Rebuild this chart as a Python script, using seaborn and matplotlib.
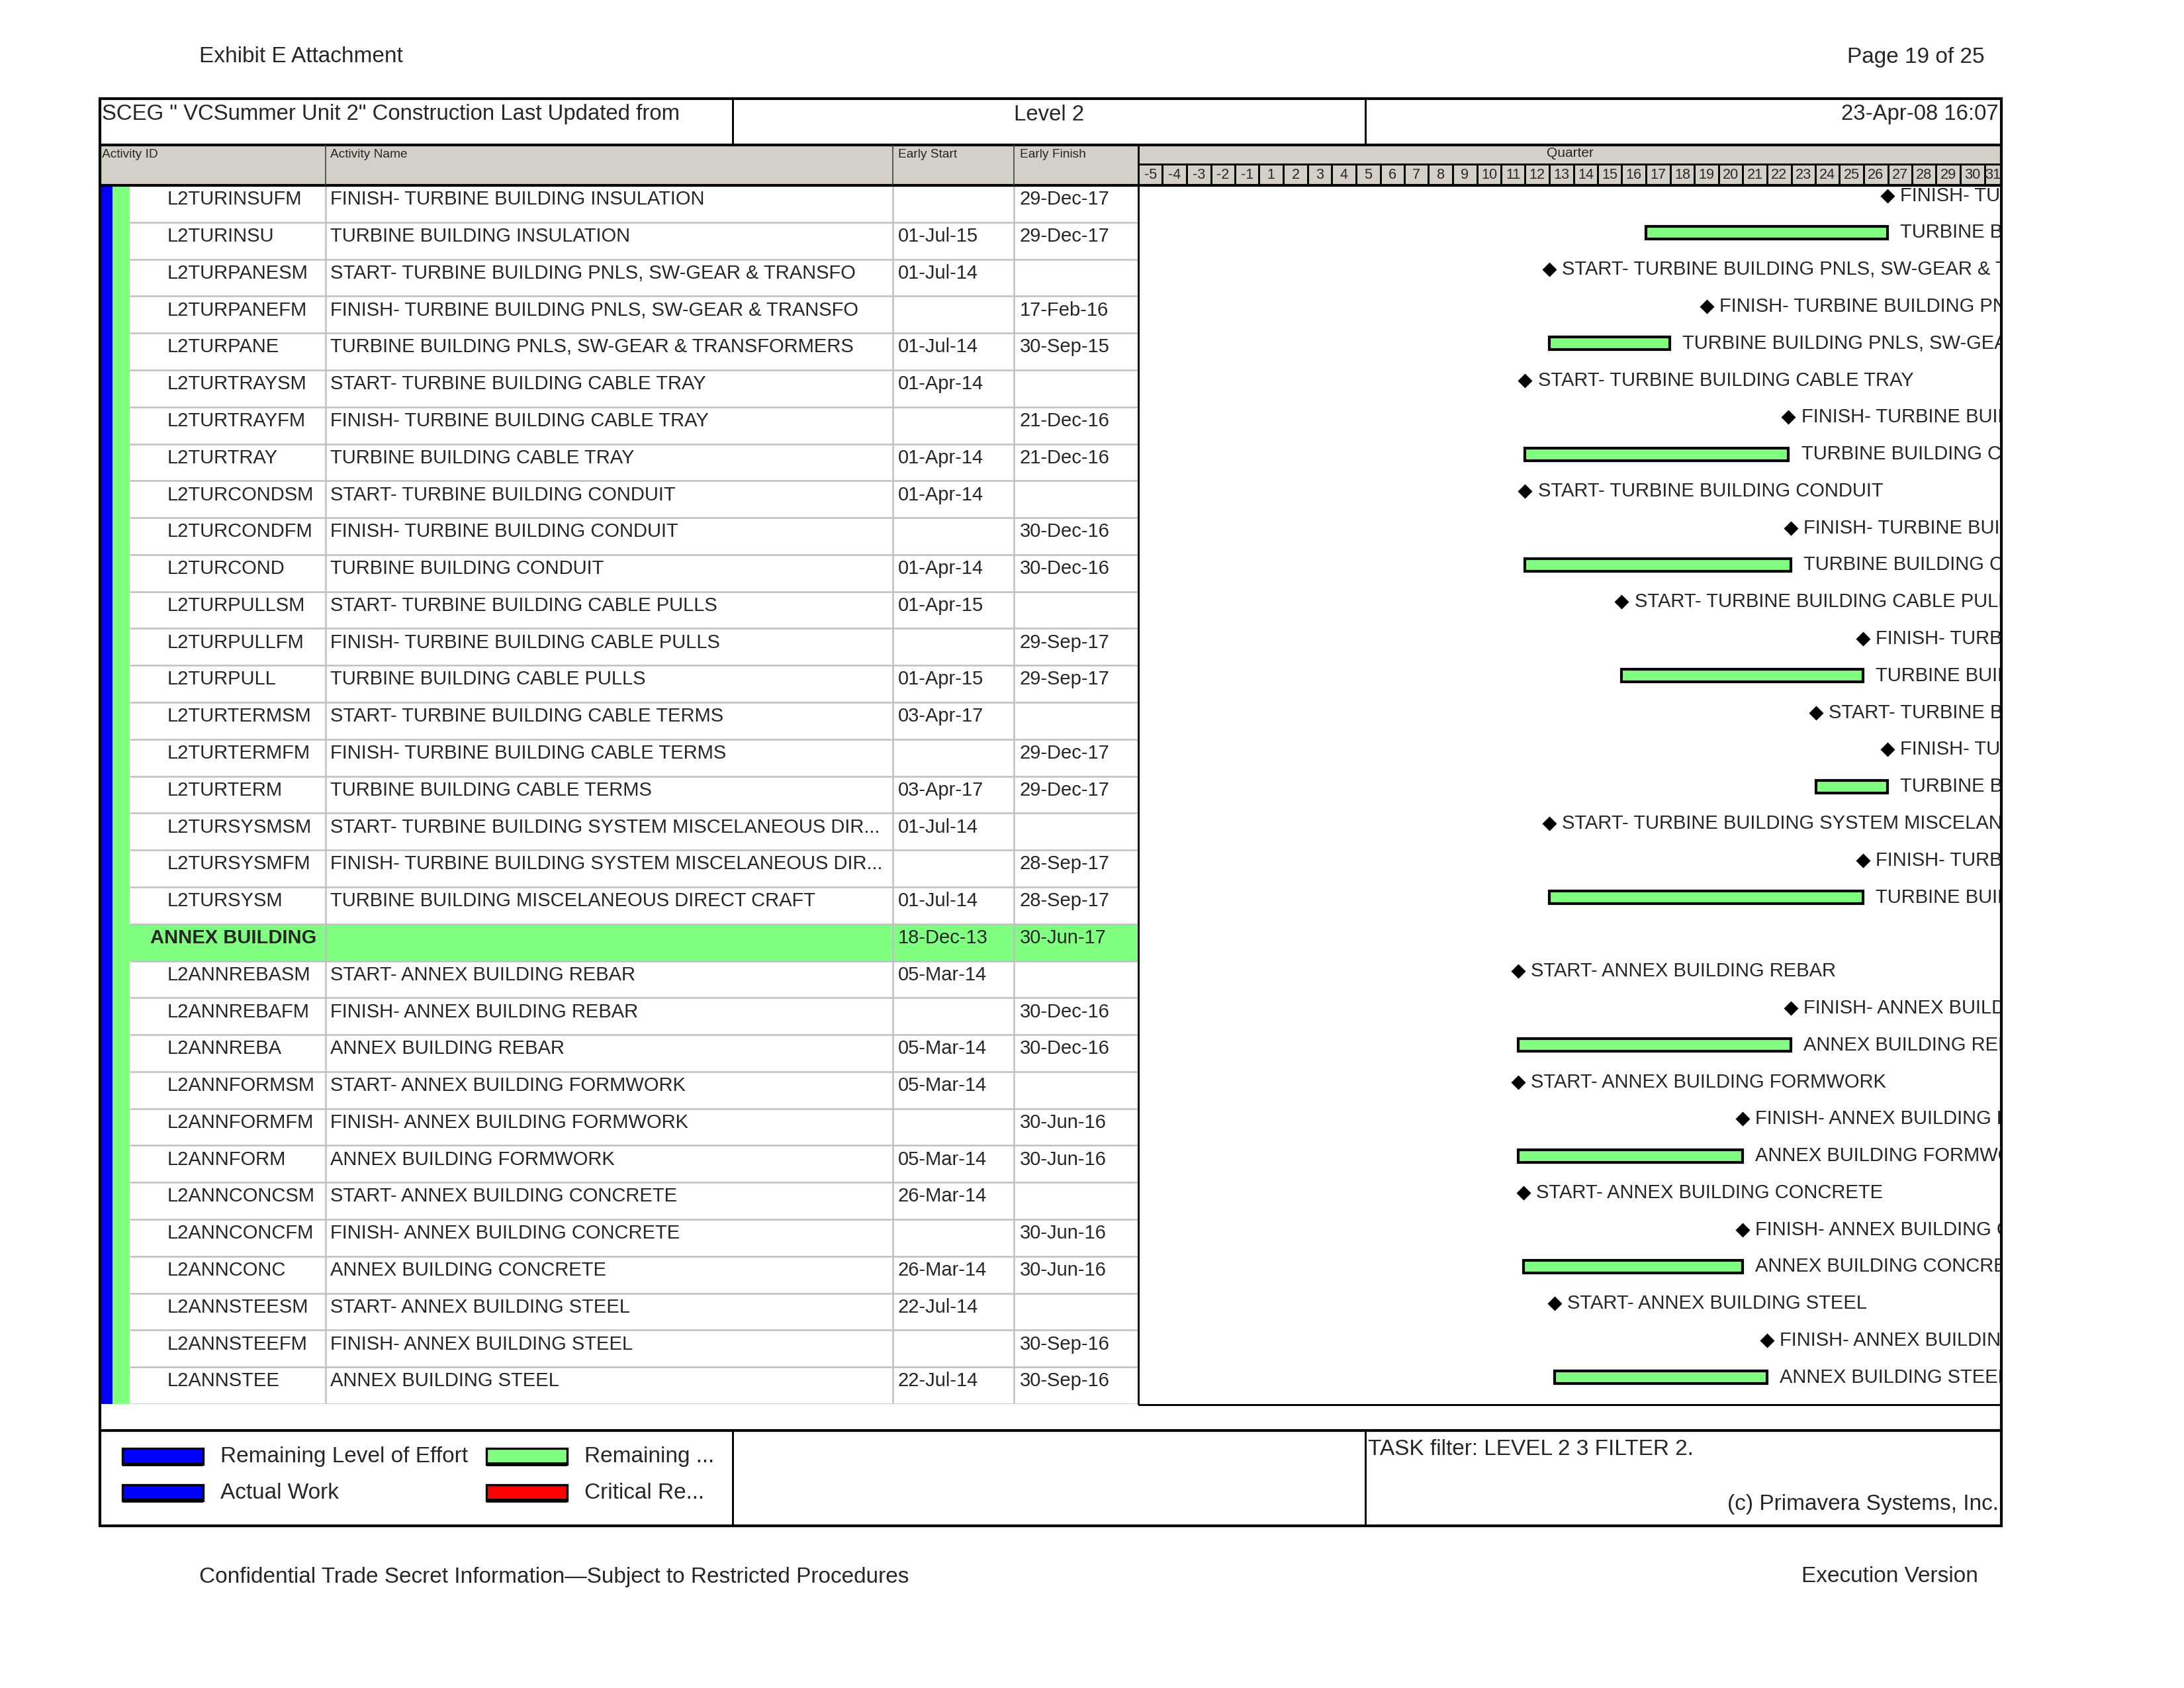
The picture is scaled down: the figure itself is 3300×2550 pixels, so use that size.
import numpy as np
import pandas as pd
import matplotlib
matplotlib.use("Agg")
import matplotlib.pyplot as plt
import matplotlib.dates as mdates
import matplotlib.transforms as mtransforms
from matplotlib.patches import Rectangle
import seaborn as sns

sns.set_theme(style="white")
plt.rcParams['font.family'] = ['Liberation Sans', 'DejaVu Sans']

# ---------------- data ----------------
activity_ids = [
    "L2TURINSUFM", "L2TURINSU", "L2TURPANESM", "L2TURPANEFM", "L2TURPANE",
    "L2TURTRAYSM", "L2TURTRAYFM", "L2TURTRAY", "L2TURCONDSM", "L2TURCONDFM",
    "L2TURCOND", "L2TURPULLSM", "L2TURPULLFM", "L2TURPULL", "L2TURTERMSM",
    "L2TURTERMFM", "L2TURTERM", "L2TURSYSMSM", "L2TURSYSMFM", "L2TURSYSM",
    "ANNEX BUILDING",
    "L2ANNREBASM", "L2ANNREBAFM", "L2ANNREBA", "L2ANNFORMSM", "L2ANNFORMFM",
    "L2ANNFORM", "L2ANNCONCSM", "L2ANNCONCFM", "L2ANNCONC", "L2ANNSTEESM",
    "L2ANNSTEEFM", "L2ANNSTEE",
]
activity_names = [
    "FINISH- TURBINE BUILDING INSULATION",
    "TURBINE BUILDING INSULATION",
    "START- TURBINE BUILDING PNLS, SW-GEAR & TRANSFO",
    "FINISH- TURBINE BUILDING PNLS, SW-GEAR & TRANSFO",
    "TURBINE BUILDING PNLS, SW-GEAR & TRANSFORMERS",
    "START- TURBINE BUILDING CABLE TRAY",
    "FINISH- TURBINE BUILDING CABLE TRAY",
    "TURBINE BUILDING CABLE TRAY",
    "START- TURBINE BUILDING CONDUIT",
    "FINISH- TURBINE BUILDING CONDUIT",
    "TURBINE BUILDING CONDUIT",
    "START- TURBINE BUILDING CABLE PULLS",
    "FINISH- TURBINE BUILDING CABLE PULLS",
    "TURBINE BUILDING CABLE PULLS",
    "START- TURBINE BUILDING CABLE TERMS",
    "FINISH- TURBINE BUILDING CABLE TERMS",
    "TURBINE BUILDING CABLE TERMS",
    "START- TURBINE BUILDING SYSTEM MISCELANEOUS DIR...",
    "FINISH- TURBINE BUILDING SYSTEM MISCELANEOUS DIR...",
    "TURBINE BUILDING MISCELANEOUS DIRECT CRAFT",
    "",
    "START- ANNEX BUILDING REBAR",
    "FINISH- ANNEX BUILDING REBAR",
    "ANNEX BUILDING REBAR",
    "START- ANNEX BUILDING FORMWORK",
    "FINISH- ANNEX BUILDING FORMWORK",
    "ANNEX BUILDING FORMWORK",
    "START- ANNEX BUILDING CONCRETE",
    "FINISH- ANNEX BUILDING CONCRETE",
    "ANNEX BUILDING CONCRETE",
    "START- ANNEX BUILDING STEEL",
    "FINISH- ANNEX BUILDING STEEL",
    "ANNEX BUILDING STEEL",
]
early_start = [
    "", "01-Jul-15", "01-Jul-14", "", "01-Jul-14",
    "01-Apr-14", "", "01-Apr-14", "01-Apr-14", "",
    "01-Apr-14", "01-Apr-15", "", "01-Apr-15", "03-Apr-17",
    "", "03-Apr-17", "01-Jul-14", "", "01-Jul-14",
    "18-Dec-13",
    "05-Mar-14", "", "05-Mar-14", "05-Mar-14", "",
    "05-Mar-14", "26-Mar-14", "", "26-Mar-14", "22-Jul-14",
    "", "22-Jul-14",
]
early_finish = [
    "29-Dec-17", "29-Dec-17", "", "17-Feb-16", "30-Sep-15",
    "", "21-Dec-16", "21-Dec-16", "", "30-Dec-16",
    "30-Dec-16", "", "29-Sep-17", "29-Sep-17", "",
    "29-Dec-17", "29-Dec-17", "", "28-Sep-17", "28-Sep-17",
    "30-Jun-17",
    "", "30-Dec-16", "30-Dec-16", "", "30-Jun-16",
    "30-Jun-16", "", "30-Jun-16", "30-Jun-16", "",
    "30-Sep-16", "30-Sep-16",
]
# F = finish milestone, B = bar, S = start milestone, G = group band
row_kind = list("FBSFBSFBSFBSFBSFBSFBGSFBSFBSFBSFB")

quarter_labels = [-5, -4, -3, -2, -1] + list(range(1, 32))
quarter_first = "2010-04-01"
timeline_end = "2019-03-05"

# ---------------- layout helpers ----------------
W, H = 3300, 2550
fig = plt.figure(figsize=(11, 8.5), dpi=300)
fig.patch.set_facecolor("white")


def ax_at(x0, y0, x1, y1, z=1):
    a = fig.add_axes([x0 / W, 1 - y1 / H, (x1 - x0) / W, (y1 - y0) / H], zorder=z)
    a.patch.set_alpha(0)
    a.set_axis_off()
    return a


L, R = 151, 3024
TOP, TITLE_B, HEAD_B = 149, 219, 280
ROWS_B, LEG_T, BOT = 2121, 2161, 2305
GX = 1720
COL_X = [492, 1349, 1532]
DIV_X = [1107, 2063]
GRAY = "#D4D0C8"
GREEN = "#80FF80"
BLUE = "#0000FF"
nrows = len(activity_ids)

# ---------------- background (header gray) ----------------
bg = ax_at(0, 0, W, H, z=0)
bg.set_xlim(0, W)
bg.set_ylim(H, 0)
bg.add_patch(Rectangle((L, TITLE_B), R - L, HEAD_B - TITLE_B, facecolor=GRAY, edgecolor="none"))

# ---------------- table ----------------
tab = ax_at(L, HEAD_B, GX, ROWS_B, z=1)
tab.set_xlim(L, GX)
tab.set_ylim(nrows, 0)
tab.axvspan(151, 170, color=BLUE, lw=0)
tab.axvspan(170, 196, color=GREEN, lw=0)
for i, k in enumerate(row_kind):
    if k == "G":
        tab.add_patch(Rectangle((196, i), GX - 196, 1, facecolor=GREEN, edgecolor="none"))
tab.hlines(np.arange(1, nrows + 1), 196, GX, color="#C0C0C0", lw=0.6)
tab.vlines(COL_X, 0, nrows, color="#C0C0C0", lw=0.6)

for i in range(nrows):
    yy = i + 0.38
    if row_kind[i] == "G":
        tab.text(227, yy, activity_ids[i], fontsize=7, fontweight="bold", va="center", ha="left")
    else:
        tab.text(253, yy, activity_ids[i], fontsize=7, va="center", ha="left")
        tab.text(499, yy, activity_names[i], fontsize=7, va="center", ha="left")
    tab.text(1357, yy, early_start[i], fontsize=7, va="center", ha="left")
    tab.text(1541, yy, early_finish[i], fontsize=7, va="center", ha="left")

# ---------------- gantt ----------------
x0 = mdates.date2num(pd.Timestamp(quarter_first))
x1 = mdates.date2num(pd.Timestamp(timeline_end))
gan = ax_at(GX, HEAD_B, R, ROWS_B, z=2)

def dnum(s):
    return mdates.date2num(pd.to_datetime(s, format="%d-%b-%y"))

bar_y, bar_left, bar_w = [], [], []
ms_x, ms_y = [], []
label_x, label_y, label_t = [], [], []
for i, k in enumerate(row_kind):
    yc = i + 0.28
    name = activity_names[i].replace("...", "")
    if k == "B":
        s, f = dnum(early_start[i]), dnum(early_finish[i])
        bar_y.append(yc); bar_left.append(s); bar_w.append(f - s)
        label_x.append(f); label_y.append(yc); label_t.append(name)
    elif k == "S":
        s = dnum(early_start[i])
        ms_x.append(s); ms_y.append(yc)
        label_x.append(s); label_y.append(yc); label_t.append(name)
    elif k == "F":
        f = dnum(early_finish[i])
        ms_x.append(f); ms_y.append(yc)
        label_x.append(f); label_y.append(yc); label_t.append(name)

gan.barh(bar_y, bar_w, left=bar_left, height=0.34, color=GREEN, edgecolor="black", linewidth=1.0)
ms_df = pd.DataFrame({"x": ms_x, "y": ms_y})
sns.scatterplot(data=ms_df, x="x", y="y", marker="D", color="black", s=14, linewidth=0, ax=gan, legend=False)
trans = mtransforms.offset_copy(gan.transData, fig=fig, x=4.6, y=0, units="points")
for lx, ly, lt in zip(label_x, label_y, label_t):
    gan.text(lx, ly, lt, transform=trans, fontsize=7, va="center", ha="left", clip_on=True)
gan.set_xlim(x0, x1)
gan.set_ylim(nrows, 0)
gan.set_axis_off()

# ---------------- quarter header ----------------
qax = ax_at(GX, TITLE_B, R, HEAD_B, z=3)
qax.set_xlim(x0, x1)
qax.set_ylim(1, 0)
qstarts = mdates.date2num(pd.date_range(quarter_first, periods=len(quarter_labels), freq="QS"))
qends = np.append(qstarts[1:], x1)
qax.hlines(0.475, x0, x1, color="black", lw=0.7)
qax.vlines(qstarts[1:], 0.475, 1, color="black", lw=0.7)
for qs, qe, lab in zip(qstarts, qends, quarter_labels):
    qax.text((qs + qe) / 2, 0.75, str(lab), fontsize=5.2, ha="center", va="center")
qax.text((x0 + x1) / 2, 0.2, "Quarter", fontsize=5, ha="center", va="center")

# ---------------- page overlay: borders and texts ----------------
pg = ax_at(0, 0, W, H, z=10)
pg.set_xlim(0, W)
pg.set_ylim(H, 0)
thick, thin = 1.0, 0.7
pg.add_patch(Rectangle((L, TOP), R - L, BOT - TOP, fill=False, edgecolor="black", lw=thick))
pg.hlines([TITLE_B, HEAD_B, LEG_T], L, R, color="black", lw=thick)
pg.vlines(DIV_X, TOP, TITLE_B, color="black", lw=thin)
pg.vlines(DIV_X, LEG_T, BOT, color="black", lw=thin)
pg.vlines(COL_X, TITLE_B, HEAD_B, color="#404040", lw=0.4)
pg.vlines([GX], TITLE_B, ROWS_B + 1, color="black", lw=thin)
pg.hlines([ROWS_B + 1], GX, R, color="black", lw=thin)

pg.text(301, 86, "Exhibit E Attachment", fontsize=8, ha="left", va="center")
pg.text(2999, 86, "Page 19 of 25", fontsize=8, ha="right", va="center")
pg.text(301, 2382, "Confidential Trade Secret Information\u2014Subject to Restricted Procedures",
        fontsize=8, ha="left", va="center")
pg.text(2989, 2382, "Execution Version", fontsize=8, ha="right", va="center")

pg.text(154, 173, "SCEG \" VCSummer Unit 2\" Construction Last Updated from", fontsize=7.9, ha="left", va="center")
pg.text(1585, 173, "Level 2", fontsize=7.9, ha="center", va="center")
pg.text(3020, 173, "23-Apr-08 16:07", fontsize=7.9, ha="right", va="center")

for cx, ct in zip([154, 499, 1357, 1541], ["Activity ID", "Activity Name", "Early Start", "Early Finish"]):
    pg.text(cx, 233, ct, fontsize=4.6, ha="left", va="center")

# legend
leg_items = [
    (185, 2200, BLUE, "Remaining Level of Effort"),
    (735, 2200, GREEN, "Remaining ..."),
    (185, 2255, BLUE, "Actual Work"),
    (735, 2255, "#FF0000", "Critical Re..."),
]
for lx, ly, col, txt in leg_items:
    pg.add_patch(Rectangle((lx, ly - 12), 122, 24, facecolor=col, edgecolor="black", lw=0.8))
    pg.hlines(ly + 12, lx, lx + 122, color="black", lw=1.4)
    pg.text(lx + 148, ly, txt, fontsize=8, ha="left", va="center")

pg.text(2067, 2190, "TASK filter: LEVEL 2 3 FILTER 2.", fontsize=8, ha="left", va="center")
pg.text(3020, 2273, "(c) Primavera Systems, Inc.", fontsize=8, ha="right", va="center")

fig.savefig("out.png", dpi=300, facecolor="white")
